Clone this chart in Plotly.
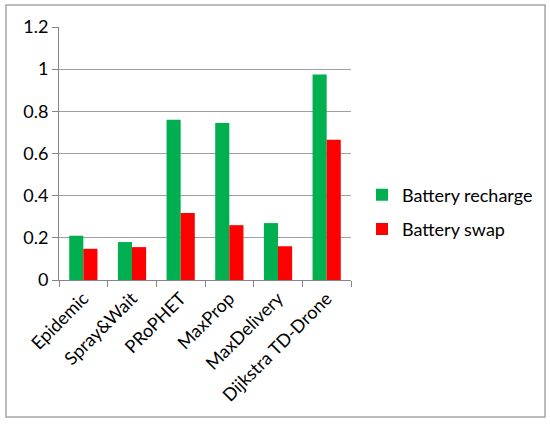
import plotly.graph_objects as go

categories = ["Epidemic", "Spray&Wait", "PRoPHET", "MaxProp", "MaxDelivery", "Dijkstra TD-Drone"]
recharge = [0.21, 0.18, 0.76, 0.745, 0.27, 0.975]
swap = [0.148, 0.156, 0.318, 0.26, 0.16, 0.665]
y_ticks = [0, 0.2, 0.4, 0.6, 0.8, 1.0, 1.2]
y_tick_labels = ["0", "0.2", "0.4", "0.6", "0.8", "1", "1.2"]

W, H = 550, 424
L, R, T, B = 59, 199, 27, 144
pw, ph = W - L - R, H - T - B

font = "Lato"
fs = 18

fig = go.Figure()
fig.add_trace(go.Bar(x=categories, y=recharge, name="Battery recharge", legendgroup="a",
                     marker=dict(color="#00B050", line=dict(width=0))))
fig.add_trace(go.Bar(x=categories, y=swap, name="Battery swap", legendgroup="b",
                     marker=dict(color="#FF0000", line=dict(width=0))))

# chart border (outer frame), in pixel-derived paper coords
bx0, bx1, by0, by1 = 6, 545, 5, 417
fig.add_shape(type="rect", xref="paper", yref="paper",
              x0=(bx0 - L) / pw, x1=(bx1 - L) / pw,
              y0=(H - B - by1) / ph, y1=(H - B - by0) / ph,
              line=dict(color="#A6A6A6", width=1.5), fillcolor="rgba(0,0,0,0)", layer="below")

fig.update_layout(
    width=W, height=H,
    margin=dict(l=L, r=R, t=T, b=B, autoexpand=False),
    paper_bgcolor="white", plot_bgcolor="white",
    barmode="group", bargap=0.42, bargroupgap=0,
    font=dict(family=font, size=fs, color="black"),
    showlegend=True,
    legend=dict(x=(362 - L) / pw, y=(H - B - 212) / ph, xanchor="left", yanchor="middle",
                font=dict(size=fs, family=font), bgcolor="rgba(0,0,0,0)",
                traceorder="grouped", tracegroupgap=8, itemwidth=30),
    xaxis=dict(type="category", tickangle=-45, tickson="boundaries", ticks="outside",
               ticklen=6, tickcolor="#868686", showline=True, linecolor="#868686",
               linewidth=1, showgrid=False, automargin=False,
               tickfont=dict(size=fs, family=font)),
    yaxis=dict(range=[0, 1.2], tickvals=y_ticks, ticktext=y_tick_labels,
               ticks="outside", ticklen=6, tickcolor="#868686", showline=True,
               linecolor="#868686", linewidth=1, showgrid=True, gridcolor="#A0A0A0",
               gridwidth=1, zeroline=False, automargin=False,
               tickfont=dict(size=fs, family=font)),
)

fig.write_html("out.html", config={"displayModeBar": False},
               post_script="document.body.style.margin='0';")
